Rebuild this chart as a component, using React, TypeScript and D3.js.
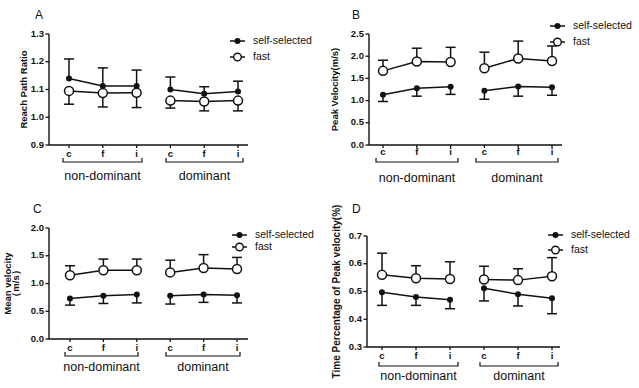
import React from "react";
import * as d3 from "d3";

const categories = ["c", "f", "i", "c", "f", "i"];
const groups = ["non-dominant", "dominant"];
const seriesNames = ["self-selected", "fast"];

// panel A: reach path ratio
const reachSelf = [1.14, 1.113, 1.113, 1.1, 1.085, 1.093];
const reachSelfErr = [0.07, 0.065, 0.057, 0.045, 0.025, 0.037];
const reachFast = [1.095, 1.087, 1.088, 1.06, 1.057, 1.06];
const reachFastErr = [0.048, 0.05, 0.053, 0.027, 0.034, 0.037];
const reachTicks = [0.9, 1.0, 1.1, 1.2, 1.3];

// panel B: peak velocity
const peakSelf = [1.13, 1.28, 1.31, 1.22, 1.32, 1.3];
const peakSelfErr = [0.15, 0.18, 0.17, 0.19, 0.22, 0.18];
const peakFast = [1.67, 1.88, 1.87, 1.73, 1.95, 1.89];
const peakFastErr = [0.24, 0.3, 0.33, 0.36, 0.39, 0.34];
const peakTicks = [0, 0.5, 1.0, 1.5, 2.0, 2.5];

// panel C: mean velocity
const meanSelf = [0.73, 0.78, 0.8, 0.78, 0.8, 0.79];
const meanSelfErr = [0.12, 0.14, 0.15, 0.15, 0.14, 0.14];
const meanFast = [1.15, 1.24, 1.24, 1.2, 1.28, 1.26];
const meanFastErr = [0.17, 0.2, 0.2, 0.22, 0.24, 0.21];
const meanTicks = [0, 0.5, 1.0, 1.5, 2.0];

// panel D: time percentage of peak velocity
const timeSelf = [0.497, 0.48, 0.47, 0.512, 0.49, 0.476];
const timeSelfErr = [0.047, 0.03, 0.032, 0.046, 0.042, 0.056];
const timeFast = [0.56, 0.548, 0.545, 0.543, 0.541, 0.555];
const timeFastErr = [0.078, 0.045, 0.062, 0.048, 0.041, 0.067];
const timeTicks = [0.3, 0.4, 0.5, 0.6, 0.7];

const FONT = "Liberation Sans, Arial, sans-serif";
const INK = "#111";

type PanelProps = {
  letter: string;
  letterPos: [number, number];
  axisX: number;
  axisEnd: number;
  xRange: [number, number];
  yTop: number;
  yBottom: number;
  ticks: number[];
  self: number[];
  selfErr: number[];
  fast: number[];
  fastErr: number[];
  selfUp: boolean;
  title: string[];
  titleX: number[];
  titleSize: number;
  tickLabelY: number;
  bracketY: number;
  groupY: number;
  brackets: [number, number][];
  legendX: number;
  legendY: [number, number];
};

const Panel = (p: PanelProps) => {
  const x = d3
    .scalePoint<number>()
    .domain(d3.range(categories.length))
    .range(p.xRange);
  const y = d3
    .scaleLinear()
    .domain([p.ticks[0], p.ticks[p.ticks.length - 1]])
    .range([p.yBottom, p.yTop]);
  const fmt = d3.format(".1f");

  // each hand group gets its own line
  const groupLine = (vals: number[], g: number) =>
    d3
      .line<number>()
      .x((i) => x(i) as number)
      .y((i) => y(vals[i]))([g * 3, g * 3 + 1, g * 3 + 2]) as string;

  const errBars = (vals: number[], errs: number[], up: boolean, key: string) =>
    vals.map((v, i) => {
      const cx = x(i) as number;
      const end = y(up ? v + errs[i] : v - errs[i]);
      return (
        <g key={key + i}>
          <line x1={cx} x2={cx} y1={y(v)} y2={end} stroke={INK} strokeWidth={1.5} />
          <line x1={cx - 5} x2={cx + 5} y1={end} y2={end} stroke={INK} strokeWidth={1.5} />
        </g>
      );
    });

  const cy = (p.yTop + p.yBottom) / 2;

  return (
    <g>
      <text x={p.letterPos[0]} y={p.letterPos[1]} fontSize={12} fontFamily={FONT} fill={INK}>
        {p.letter}
      </text>
      {p.title.map((t, i) => (
        <text
          key={t}
          transform={`translate(${p.titleX[i]},${cy}) rotate(-90)`}
          textAnchor="middle"
          dominantBaseline="middle"
          fontSize={p.titleSize}
          fontWeight="bold"
          fontFamily={FONT}
          fill={INK}
        >
          {t}
        </text>
      ))}
      <line x1={p.axisX} x2={p.axisX} y1={p.yTop} y2={p.yBottom} stroke={INK} strokeWidth={1.4} />
      {p.ticks.map((t) => (
        <g key={t}>
          <line x1={p.axisX - 3.5} x2={p.axisX} y1={y(t)} y2={y(t)} stroke={INK} strokeWidth={1.3} />
          <text
            x={p.axisX - 5}
            y={y(t)}
            textAnchor="end"
            dominantBaseline="middle"
            fontSize={9.5}
            fontWeight="bold"
            fontFamily={FONT}
            fill={INK}
          >
            {fmt(t)}
          </text>
        </g>
      ))}
      <line x1={p.axisX} x2={p.axisEnd} y1={p.yBottom} y2={p.yBottom} stroke={INK} strokeWidth={1.4} />
      {categories.map((c, i) => (
        <g key={"x" + i}>
          <line
            x1={x(i)}
            x2={x(i)}
            y1={p.yBottom}
            y2={p.yBottom + 3}
            stroke={INK}
            strokeWidth={1.3}
          />
          <text
            x={x(i)}
            y={p.tickLabelY}
            textAnchor="middle"
            fontSize={9.5}
            fontWeight="bold"
            fontFamily={FONT}
            fill={INK}
          >
            {c}
          </text>
        </g>
      ))}
      {groups.map((g, gi) => {
        const [b0, b1] = p.brackets[gi];
        return (
          <g key={g}>
            <path
              d={`M${b0},${p.bracketY - 4}V${p.bracketY}H${b1}V${p.bracketY - 4}`}
              fill="none"
              stroke={INK}
              strokeWidth={1.2}
            />
            <text
              x={(b0 + b1) / 2}
              y={p.groupY}
              textAnchor="middle"
              dominantBaseline="middle"
              fontSize={12.5}
              fontFamily={FONT}
              fill={INK}
            >
              {g}
            </text>
          </g>
        );
      })}
      {errBars(p.self, p.selfErr, p.selfUp, "se")}
      {errBars(p.fast, p.fastErr, !p.selfUp, "fe")}
      {[0, 1].map((g) => (
        <g key={"l" + g}>
          <path d={groupLine(p.self, g)} fill="none" stroke={INK} strokeWidth={1.5} />
          <path d={groupLine(p.fast, g)} fill="none" stroke={INK} strokeWidth={1.5} />
        </g>
      ))}
      {p.fast.map((v, i) => (
        <circle key={"fc" + i} cx={x(i)} cy={y(v)} r={4.5} fill="#fff" stroke={INK} strokeWidth={1.5} />
      ))}
      {p.self.map((v, i) => (
        <circle key={"sc" + i} cx={x(i)} cy={y(v)} r={3} fill={INK} />
      ))}
      {seriesNames.map((s, si) => {
        const ly = p.legendY[si];
        return (
          <g key={s}>
            <line x1={p.legendX} x2={p.legendX + 15} y1={ly} y2={ly} stroke={INK} strokeWidth={1.5} />
            {si === 0 ? (
              <circle cx={p.legendX + 7.5} cy={ly} r={3} fill={INK} />
            ) : (
              <circle cx={p.legendX + 7.5} cy={ly} r={3.8} fill="#fff" stroke={INK} strokeWidth={1.4} />
            )}
            <text
              x={p.legendX + 23}
              y={ly}
              dominantBaseline="middle"
              fontSize={10.5}
              fontFamily={FONT}
              fill={INK}
            >
              {s}
            </text>
          </g>
        );
      })}
    </g>
  );
};

export default function App() {
  return (
    <svg
      width={639}
      height={388}
      style={{ position: "absolute", left: 0, top: 0, background: "#fff" }}
    >
      <Panel
        letter="A"
        letterPos={[35, 19]}
        axisX={49}
        axisEnd={248}
        xRange={[69, 238]}
        yTop={34}
        yBottom={145}
        ticks={reachTicks}
        self={reachSelf}
        selfErr={reachSelfErr}
        fast={reachFast}
        fastErr={reachFastErr}
        selfUp={true}
        title={["Reach Path Ratio"]}
        titleX={[24]}
        titleSize={9.5}
        tickLabelY={157}
        bracketY={162}
        groupY={177}
        brackets={[
          [63, 142],
          [166, 243],
        ]}
        legendX={230}
        legendY={[41, 57]}
      />
      <Panel
        letter="B"
        letterPos={[352, 19]}
        axisX={369}
        axisEnd={562}
        xRange={[383, 552]}
        yTop={34}
        yBottom={145}
        ticks={peakTicks}
        self={peakSelf}
        selfErr={peakSelfErr}
        fast={peakFast}
        fastErr={peakFastErr}
        selfUp={false}
        title={["Peak Velocity(m/s)"]}
        titleX={[335]}
        titleSize={9.5}
        tickLabelY={155}
        bracketY={162}
        groupY={179}
        brackets={[
          [376, 458],
          [476, 558],
        ]}
        legendX={550}
        legendY={[26, 42]}
      />
      <Panel
        letter="C"
        letterPos={[33, 213]}
        axisX={49}
        axisEnd={248}
        xRange={[70, 237]}
        yTop={228}
        yBottom={339}
        ticks={meanTicks}
        self={meanSelf}
        selfErr={meanSelfErr}
        fast={meanFast}
        fastErr={meanFastErr}
        selfUp={false}
        title={["Mean velocity", "（m/s）"]}
        titleX={[8, 16]}
        titleSize={9.5}
        tickLabelY={351}
        bracketY={356}
        groupY={368}
        brackets={[
          [65, 138],
          [166, 240],
        ]}
        legendX={232}
        legendY={[235, 247]}
      />
      <Panel
        letter="D"
        letterPos={[352, 213]}
        axisX={367}
        axisEnd={560}
        xRange={[382, 552]}
        yTop={236}
        yBottom={347}
        ticks={timeTicks}
        self={timeSelf}
        selfErr={timeSelfErr}
        fast={timeFast}
        fastErr={timeFastErr}
        selfUp={false}
        title={["Time Percentage of Peak velocity(%)"]}
        titleX={[337]}
        titleSize={10}
        tickLabelY={359}
        bracketY={366}
        groupY={377}
        brackets={[
          [379, 458],
          [480, 558],
        ]}
        legendX={548}
        legendY={[235, 250]}
      />
    </svg>
  );
}
